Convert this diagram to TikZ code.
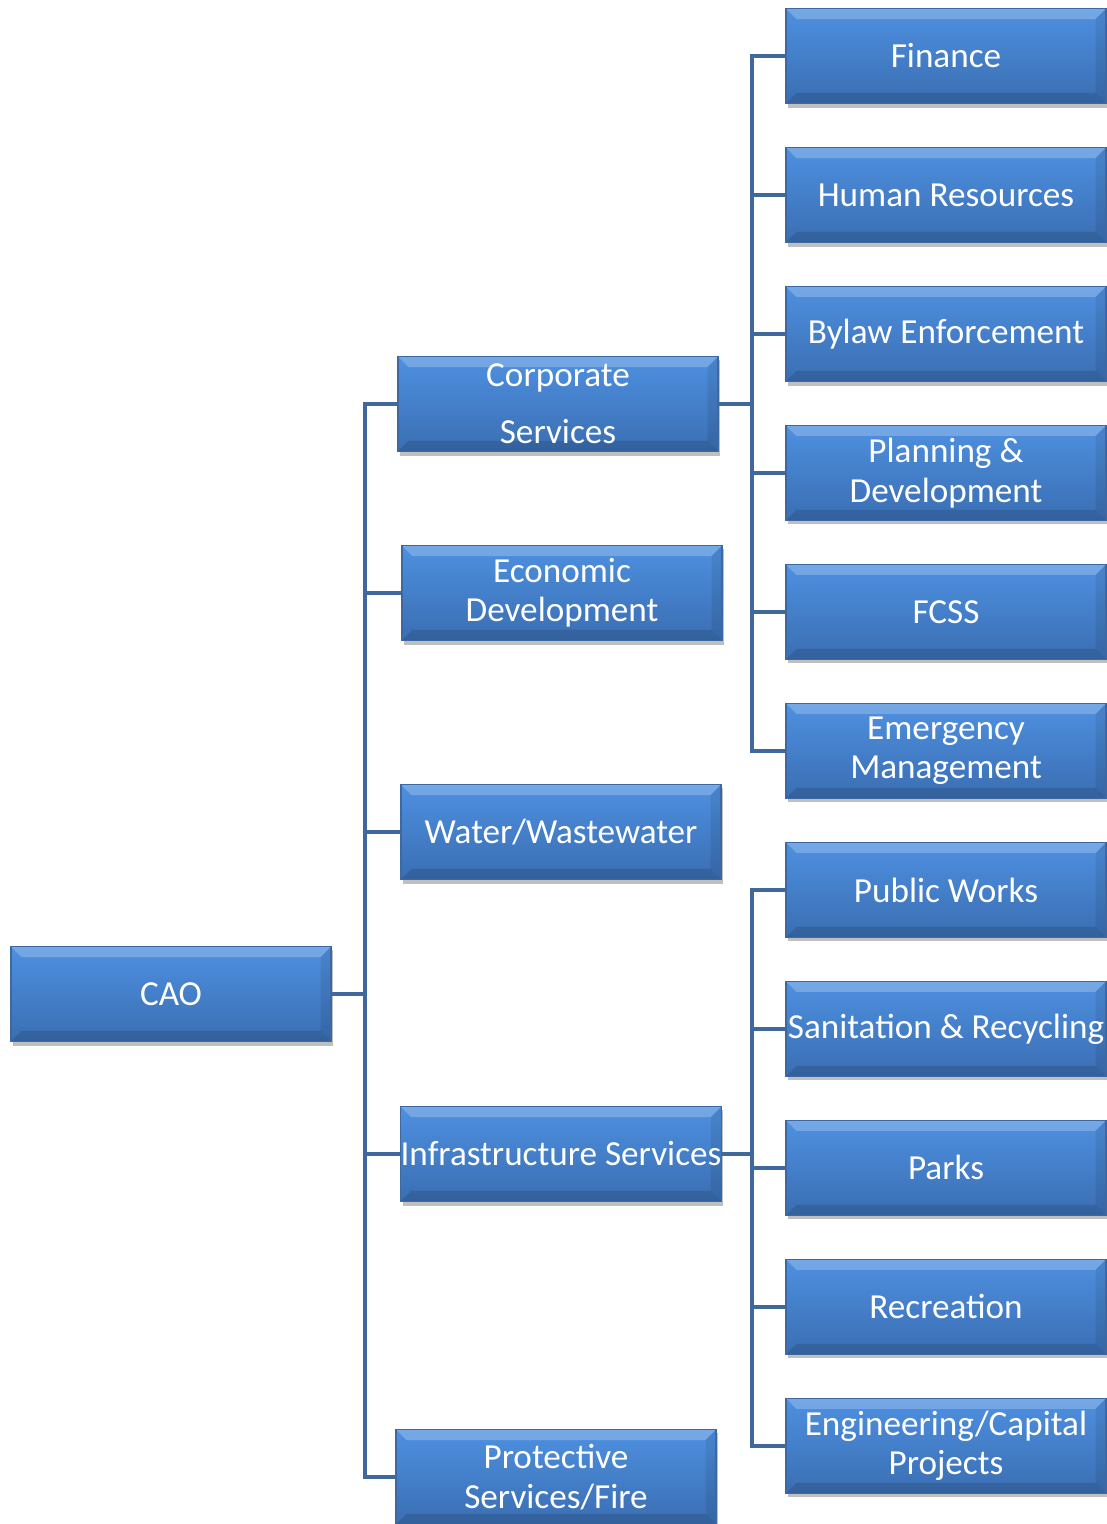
\documentclass[tikz,border=0pt]{standalone}
\usepackage{fontspec}
\setmainfont{Carlito}
\usetikzlibrary{positioning,shadows}
\definecolor{BoxTop}{RGB}{78,144,224}
\definecolor{BoxBottom}{RGB}{58,110,178}
\definecolor{BoxEdge}{RGB}{62,104,162}
\definecolor{LinkBlue}{RGB}{63,104,156}
\tikzset{
  link/.style={draw=LinkBlue,line width=1.15pt},
  orgbox/.style={draw=BoxEdge,line width=0.4pt,top color=BoxTop,bottom color=BoxBottom,
    minimum width=3.2cm,minimum height=0.95cm,inner sep=0pt,align=center,
    text=white,font=\fontsize{10}{11.2}\selectfont,
    drop shadow={shadow xshift=0.02cm,shadow yshift=-0.04cm,opacity=.25,fill=black},
    path picture={
      \fill[white,opacity=.22] (path picture bounding box.north west)
        -- (path picture bounding box.north east)
        -- ([xshift=-3pt,yshift=-3pt]path picture bounding box.north east)
        -- ([xshift=3pt,yshift=-3pt]path picture bounding box.north west) -- cycle;
      \fill[black,opacity=.12] (path picture bounding box.south west)
        -- (path picture bounding box.south east)
        -- ([xshift=-3pt,yshift=3pt]path picture bounding box.south east)
        -- ([xshift=3pt,yshift=3pt]path picture bounding box.south west) -- cycle;
      \fill[black,opacity=.08] (path picture bounding box.north east)
        -- (path picture bounding box.south east)
        -- ([xshift=-3pt,yshift=3pt]path picture bounding box.south east)
        -- ([xshift=-3pt,yshift=-3pt]path picture bounding box.north east) -- cycle;
    }}
}
\begin{document}
\begin{tikzpicture}[x=0.01cm,y=-0.01cm,node distance=0.425cm]
  \useasboundingbox (0,0) rectangle (1107,1524);
  % top level and departments
  \node[orgbox] (cao) at (171,994) {CAO};
  \node[orgbox] (corp) at (558,404) {Corporate\\[5pt]Services};
  \node[orgbox] (econ) at (562,593) {Economic\\Development};
  \node[orgbox] (water) at (561,832) {Water/Wastewater};
  \node[orgbox] (infra) at (561,1154) {Infrastructure Services};
  \node[orgbox] (prot) at (556,1477) {Protective\\Services/Fire};
  % corporate services branch
  \node[orgbox] (fin) at (946,56) {Finance};
  \node[orgbox,below=of fin] (hr) {Human Resources};
  \node[orgbox,below=of hr] (bylaw) {Bylaw Enforcement};
  \node[orgbox,below=of bylaw] (plan) {Planning \&\\Development};
  \node[orgbox,below=of plan] (fcss) {FCSS};
  \node[orgbox,below=of fcss] (emerg) {Emergency\\Management};
  % infrastructure branch
  \node[orgbox,below=of emerg] (works) {Public Works};
  \node[orgbox,below=of works] (sanit) {Sanitation \& Recycling};
  \node[orgbox,below=of sanit] (parks) {Parks};
  \node[orgbox,below=of parks] (recr) {Recreation};
  \node[orgbox,below=of recr] (eng) {Engineering/Capital\\Projects};
  % connectors
  \coordinate (trunk) at (365,994);
  \coordinate (corpbus) at (752,404);
  \coordinate (infrabus) at (752,1154);
  \draw[link] (cao.east) -- (trunk);
  \draw[link] (trunk) |- (corp.west);
  \draw[link] (trunk) |- (econ.west);
  \draw[link] (trunk) |- (water.west);
  \draw[link] (trunk) |- (infra.west);
  \draw[link] (trunk) |- (prot.west);
  \draw[link] (corp.east) -- (corpbus);
  \draw[link] (corpbus) |- (fin.west);
  \draw[link] (corpbus) |- (hr.west);
  \draw[link] (corpbus) |- (bylaw.west);
  \draw[link] (corpbus) |- (plan.west);
  \draw[link] (corpbus) |- (fcss.west);
  \draw[link] (corpbus) |- (emerg.west);
  \draw[link] (infra.east) -- (infrabus);
  \draw[link] (infrabus) |- (works.west);
  \draw[link] (infrabus) |- (sanit.west);
  \draw[link] (infrabus) |- (parks.west);
  \draw[link] (infrabus) |- (recr.west);
  \draw[link] (infrabus) |- (eng.west);
\end{tikzpicture}
\end{document}
